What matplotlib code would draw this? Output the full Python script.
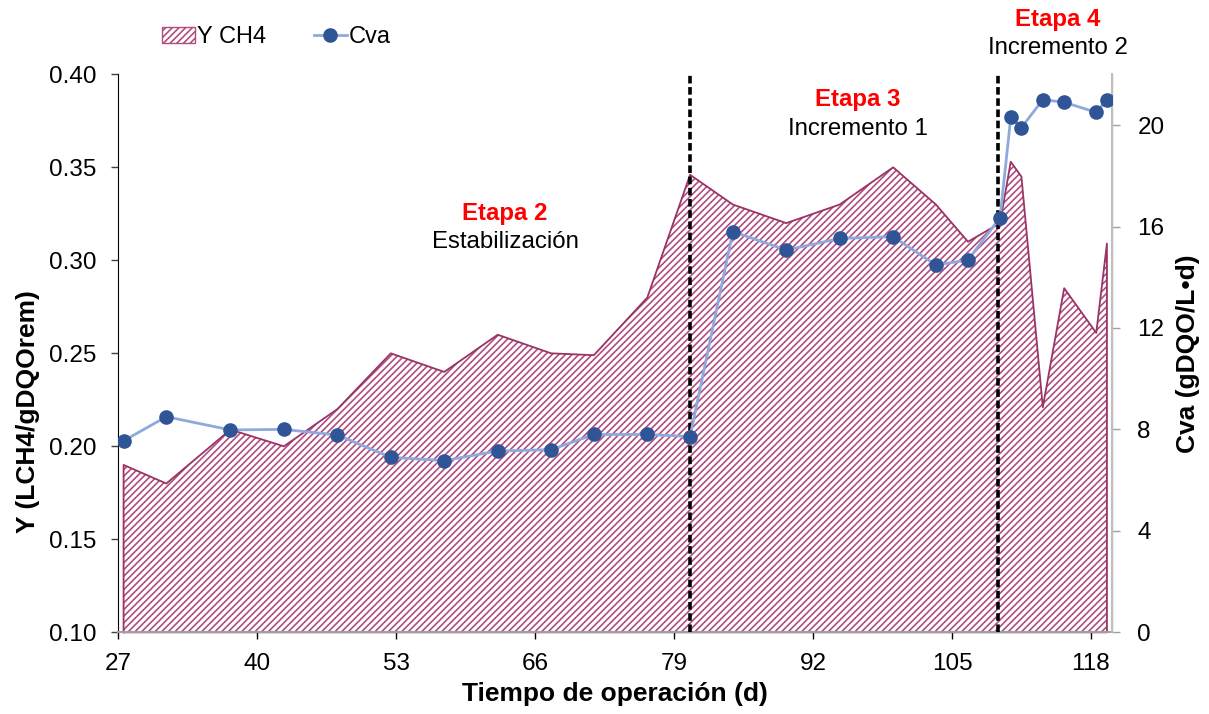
import numpy as np
import matplotlib.pyplot as plt
from matplotlib.patches import Patch
from matplotlib.lines import Line2D

plt.rcParams['font.family'] = ['Liberation Sans', 'DejaVu Sans']
plt.rcParams['hatch.linewidth'] = 1.2

# dia de operacion
dias = [27, 31, 37, 42, 47, 52, 57, 62, 67, 71, 76, 80, 84, 89, 94, 99,
        103, 106, 109, 110, 111, 113, 115, 118, 119]
# rendimiento de metano (L CH4 / g DQO removida)
y_ch4 = [0.19, 0.18, 0.209, 0.20, 0.22, 0.25, 0.24, 0.26, 0.25, 0.249, 0.28, 0.346,
         0.33, 0.32, 0.33, 0.35, 0.33, 0.31, 0.32, 0.353, 0.345, 0.221, 0.285,
         0.261, 0.309]
# carga volumetrica aplicada (g DQO / L d)
cva = [7.55, 8.5, 7.98, 8.0, 7.78, 6.9, 6.77, 7.15, 7.2, 7.8, 7.8, 7.72,
       15.8, 15.07, 15.53, 15.6, 14.48, 14.68, 16.35, 20.3, 19.9, 21.0, 20.9,
       20.5, 21.0]

xticks = [27, 40, 53, 66, 79, 92, 105, 118]
cambios_etapa = [80.5, 109.3]

# eje de fechas tipo Excel: cada punto queda a mitad del dia
x = np.array(dias) + 0.5

fig = plt.figure(figsize=(12.09, 7.14), dpi=100)
ax = fig.add_axes([0.0978, 0.1144, 0.8222, 0.7815])
ax2 = ax.twinx()

area_col = '#9A3366'
hatch_col = '#B04E80'
ax.fill_between(x, 0.10, y_ch4, facecolor='white', edgecolor=hatch_col,
                hatch='/////', linewidth=0, zorder=1)
# contorno completo del area
borde_x = np.concatenate([[x[0]], x, [x[-1], x[0]]])
borde_y = np.concatenate([[0.10], y_ch4, [0.10, 0.10]])
ax.plot(borde_x, borde_y, color=area_col, lw=1.3, zorder=2, clip_on=False)

for xc in cambios_etapa:
    ax.axvline(xc, color='black', lw=2.6, dashes=(2.1, 1.0), zorder=3)

ax2.plot(x, cva, color='#8EA9DB', lw=2.0, marker='o', ms=9.5,
         mfc='#2F5597', mec='#2F5597', zorder=4)

ax.set_xlim(27, 120)
ax.set_ylim(0.10, 0.40)
ax2.set_ylim(0, 22)
ax.set_xticks(xticks)
ax.set_yticks(np.arange(0.10, 0.401, 0.05))
ax.yaxis.set_major_formatter(plt.FormatStrFormatter('%.2f'))
ax2.set_yticks(range(0, 21, 4))

ax.spines['top'].set_visible(False)
ax2.spines['top'].set_visible(False)
ax.spines['left'].set_color('black')
ax.spines['bottom'].set_color('#A0A0A0')
ax.spines['bottom'].set_linewidth(1.5)
ax2.spines['right'].set_color('#BFBFBF')
ax2.spines['right'].set_linewidth(1.5)
ax2.spines['left'].set_visible(False)
ax2.spines['bottom'].set_visible(False)

ax.tick_params(axis='x', labelsize=17.5, length=5, width=1, color='black', pad=10)
ax.tick_params(axis='y', labelsize=17.5, length=5, width=1, color='#404040', pad=11)
ax2.tick_params(axis='y', labelsize=17.5, length=6, width=1, color='#A0A0A0', pad=12)

ax.set_xlabel('Tiempo de operación (d)', fontsize=19, fontweight='bold', labelpad=5)
ax.set_ylabel('Y (LCH4/gDQOrem)', fontsize=19, fontweight='bold')
ax.yaxis.set_label_coords(-0.079, 0.395)
ax2.set_ylabel('Cva (gDQO/L•d)', fontsize=19, fontweight='bold', labelpad=8)

# etiquetas de cada etapa
etapas = [('Etapa 2', 'Estabilización', 63.2, 0.3254),
          ('Etapa 3', 'Incremento 1', 96.2, 0.3862),
          ('Etapa 4', 'Incremento 2', 114.9, 0.4296)]
for titulo, sub, xe, ye in etapas:
    ax.text(xe, ye, titulo, color='red', fontsize=17.3, fontweight='bold',
            ha='center', va='center', clip_on=False)
    ax.text(xe, ye - 0.0156, sub, color='black', fontsize=17.3,
            ha='center', va='center', clip_on=False)

handles = [Patch(facecolor='white', edgecolor=hatch_col, hatch='/////', lw=1.0),
           Line2D([], [], color='#8EA9DB', lw=2.0, marker='o', ms=9.5,
                  mfc='#2F5597', mec='#2F5597')]
fig.legend(handles, ['Y CH4', 'Cva'], loc='center left',
           bbox_to_anchor=(0.1163, 0.948), ncol=2, frameon=False, fontsize=17,
           handlelength=1.4, handletextpad=0.1, columnspacing=2.0)

fig.savefig('out.png', dpi=100)
